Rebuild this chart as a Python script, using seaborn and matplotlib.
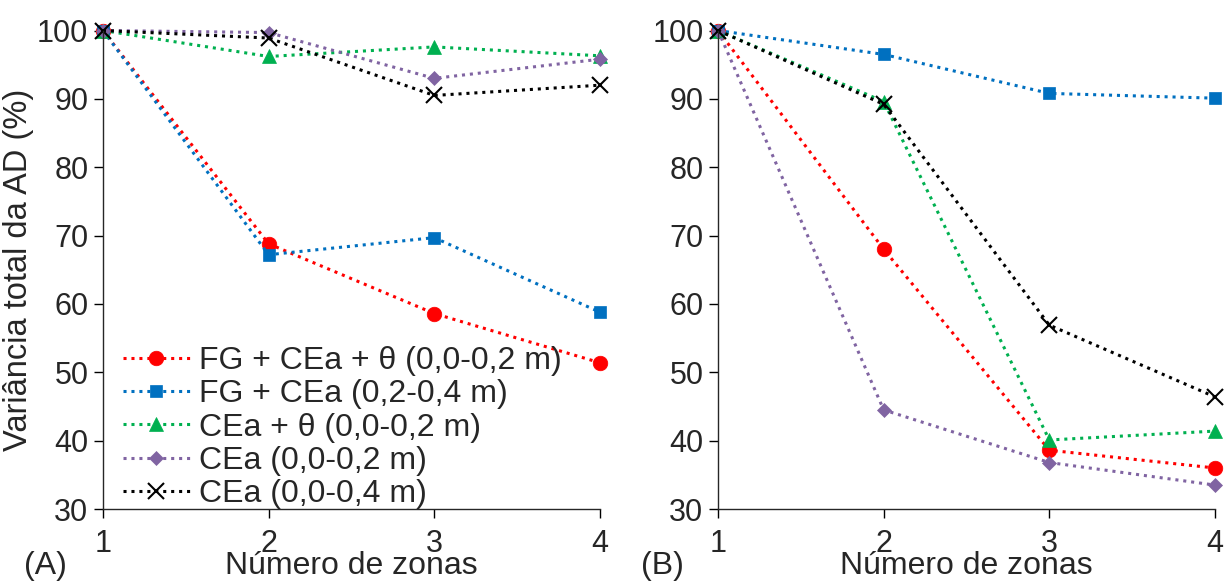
import pandas as pd
import seaborn as sns
import matplotlib.pyplot as plt
import numpy as np

# Data
zonas = [1, 2, 3, 4]
series = ['FG + CEa + θ (0,0-0,2 m)', 'FG + CEa (0,2-0,4 m)', 'CEa + θ (0,0-0,2 m)',
          'CEa (0,0-0,2 m)', 'CEa (0,0-0,4 m)']

# panel (A)
a_fg_cea_theta = [100, 68.8, 58.6, 51.4]
a_fg_cea = [100, 67.2, 69.7, 58.8]
a_cea_theta = [100, 96.2, 97.6, 96.3]
a_cea_02 = [100, 99.7, 93.0, 95.8]
a_cea_04 = [100, 98.9, 90.5, 92.0]

# panel (B)
b_fg_cea_theta = [100, 68.0, 38.6, 36.0]
b_fg_cea = [100, 96.5, 90.8, 90.1]
b_cea_theta = [100, 89.6, 40.1, 41.4]
b_cea_02 = [100, 44.5, 36.8, 33.5]
b_cea_04 = [100, 89.2, 56.9, 46.4]

colors = ['#FF0000', '#0070C0', '#00B050', '#8064A2', '#000000']
markers = ['o', 's', '^', 'D', 'x']
msizes = [10.5, 9, 10.5, 7.5, 11.5]

sns.set_style('ticks')
plt.rcParams['font.family'] = ['Liberation Sans', 'DejaVu Sans']
plt.rcParams['axes.linewidth'] = 1.0

fig = plt.figure(figsize=(12.27, 5.81), dpi=100)
axA = fig.add_axes([0.0839, 0.1239, 0.405, 0.8236])
axB = fig.add_axes([0.5852, 0.1239, 0.405, 0.8236])

panels = [
    (axA, [a_fg_cea_theta, a_fg_cea, a_cea_theta, a_cea_02, a_cea_04]),
    (axB, [b_fg_cea_theta, b_fg_cea, b_cea_theta, b_cea_02, b_cea_04]),
]

for ax, vals in panels:
    for name, v, c, m, ms in zip(series, vals, colors, markers, msizes):
        df = pd.DataFrame({'zonas': zonas, 'var': v})
        mew = 1.5 if m == 'x' else 0.5
        sns.lineplot(data=df, x='zonas', y='var', ax=ax, color=c, marker=m,
                     markersize=ms, markeredgecolor=c, markeredgewidth=mew,
                     linestyle=(0, (1, 1.6)), linewidth=2.2, label=name,
                     clip_on=False, legend=False)
    ax.set_xlim(1, 4)
    ax.set_ylim(30, 100)
    ax.set_xticks(zonas)
    ax.set_yticks(np.arange(30, 101, 10))
    ax.tick_params(axis='both', labelsize=22, length=6.5, width=1.0, color='black')
    ax.tick_params(axis='y', pad=4)
    ax.tick_params(axis='x', pad=8)
    ax.set_xlabel('Número de zonas', fontsize=23, labelpad=-6)
    ax.set_ylabel('')
    sns.despine(ax=ax)

axA.set_ylabel('Variância total da AD (%)', fontsize=23.5, labelpad=2)

handles = axA.get_lines()[:5]
axA.legend(handles, series, loc='lower left', bbox_to_anchor=(0.04, 0.0),
           frameon=False, fontsize=23, labelspacing=0.1, handlelength=2.1,
           handletextpad=0.3, borderpad=0, borderaxespad=0)

fig.text(0.0367, 0.026, '(A)', fontsize=23, ha='center', va='center')
fig.text(0.5395, 0.026, '(B)', fontsize=23, ha='center', va='center')

fig.savefig('out.png', dpi=100)
